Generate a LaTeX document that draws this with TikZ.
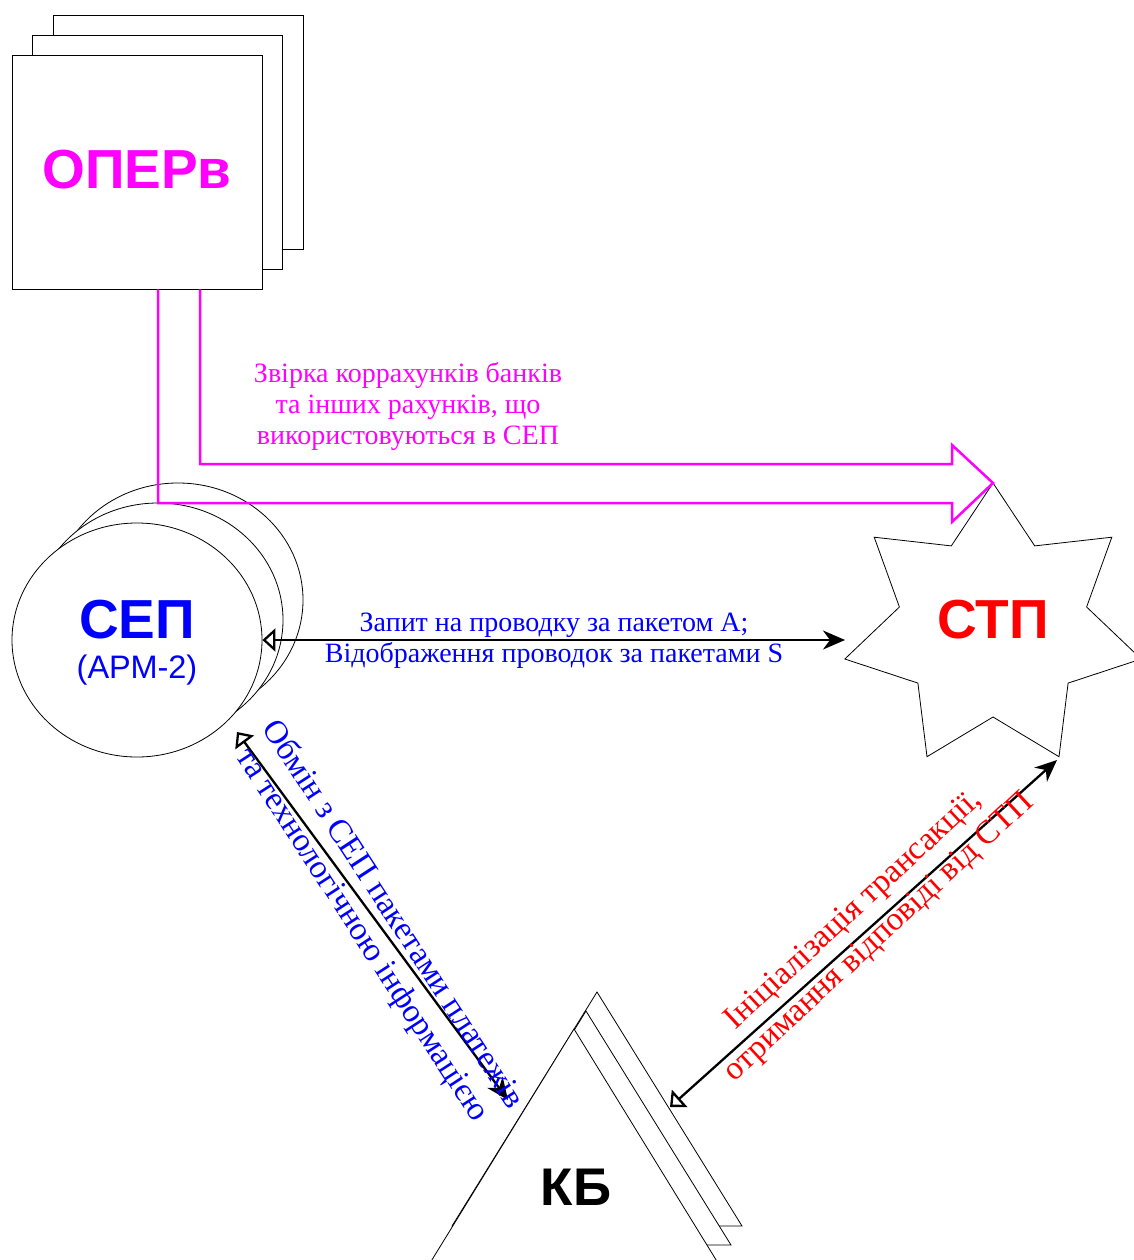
\documentclass[tikz,border=0pt]{standalone}
\usepackage{fontspec}
\setmainfont{Liberation Serif}
\setsansfont{Liberation Sans}
\usetikzlibrary{shapes.geometric,arrows.meta}
\definecolor{mag}{RGB}{255,0,255}
\definecolor{bl}{RGB}{0,0,255}
\definecolor{rd}{RGB}{255,0,0}
\begin{document}
\begin{tikzpicture}[x=1pt,y=-1pt,
  box/.style={draw, line width=0.8pt, fill=white, minimum width=250pt, minimum height=234pt, inner sep=0pt},
  ell/.style={draw, ellipse, line width=0.8pt, fill=white, minimum width=250pt, minimum height=234pt, inner sep=0pt},
  shp/.style={draw, line width=0.8pt, fill=white, line join=miter},
  big/.style={font=\sffamily\bfseries\fontsize{55}{60}\selectfont, inner sep=0pt},
  lab/.style={font=\fontsize{28}{31}\selectfont, align=center, inner sep=0pt},
  dlab/.style={font=\fontsize{33}{37}\selectfont, align=center, inner sep=0pt},
  conn/.style={line width=2.3pt},
  otip/.tip={Triangle[open, length=13pt, width=23pt]},
  ftip/.tip={Stealth[length=22pt, width=19pt, inset=7pt]},
  bigarrow/.style={draw=mag, line width=2.5pt, line join=miter}
]
\useasboundingbox (0,0) rectangle (1133,1260);

% ОПЕРв stack
\node[box] (oper3) at (178,132) {};
\node[box] (oper2) at (157.5,152) {};
\node[box] (oper) at (137,172) {};
\node[big, text=mag] (opert) at (137,170) {ОПЕРв};

% СЕП stack
\node[ell] (sep3) at (178,600) {};
\node[ell] (sep2) at (158,620) {};
\node[ell] (sep) at (137,640) {};
\node[big, text=bl] (sept) at (137,620) {СЕП};
\node[inner sep=0pt, text=bl, font=\sffamily\fontsize{32.5}{36}\selectfont] (sept2) at (137,670) {(АРМ-2)};

% КБ stack
\draw[shp] (452,1226) -- (597,992) -- (742,1226) -- cycle;
\draw[shp] (442,1245) -- (586,1011) -- (731,1245) -- cycle;
\draw[shp] (430,1263) -- (574,1029) -- (718,1263) -- cycle;
\node[big, text=black, font=\sffamily\bfseries\fontsize{53}{60}\selectfont] (kb) at (576,1187) {КБ};

% СТП star
\draw[shp] (993,483) -- (1034.7,545.9) -- (1111.8,537.2) -- (1086.6,607.0) -- (1141.2,659.0)
  -- (1068.1,683.1) -- (1059.0,756.7) -- (993,717) -- (927.0,756.7) -- (917.9,683.1)
  -- (844.8,659.0) -- (899.4,607.0) -- (874.2,537.2) -- (951.3,545.9) -- cycle;
\node[big, text=rd] (stp) at (993,620) {СТП};

% connector end points
\coordinate (stpT) at (993,483);
\coordinate (stpL) at (845,640);
\coordinate (stpB) at (1057,760);
\coordinate (sepD) at (237,732);
\coordinate (kbL) at (508,1100);
\coordinate (kbR) at (670,1107);

% magenta block arrow
\draw[bigarrow] ([xshift=63pt]oper.south) -- (200,464) -- (952,464) -- (952,445) -- (stpT)
  -- (952,522) -- (952,503) -- (158,503) -- ([xshift=21pt]oper.south);
\node[lab, text=mag] (ml) at (408,406) {Звірка коррахунків банків\\та інших рахунків, що\\використовуються в СЕП};

% connectors
\draw[conn, otip-ftip] (sep.east) -- (stpL);
\node[lab, text=bl] (hl) at (554,641) {Запит на проводку за пакетом А;\\Відображення проводок за пакетами S};

\draw[conn, otip-ftip] (sepD) -- (kbL);
\node[dlab, text=bl, rotate=-57] (dl1) at (377,925) {Обмін з СЕП пакетами платежів\\та технологічною інформацією};

\draw[conn, otip-ftip] (kbR) -- (stpB);
\node[dlab, text=rd, rotate=42.8] (dl2) at (867,924) {Ініціалізація трансакції,\\отримання відповіді від СТП};
\end{tikzpicture}
\end{document}
